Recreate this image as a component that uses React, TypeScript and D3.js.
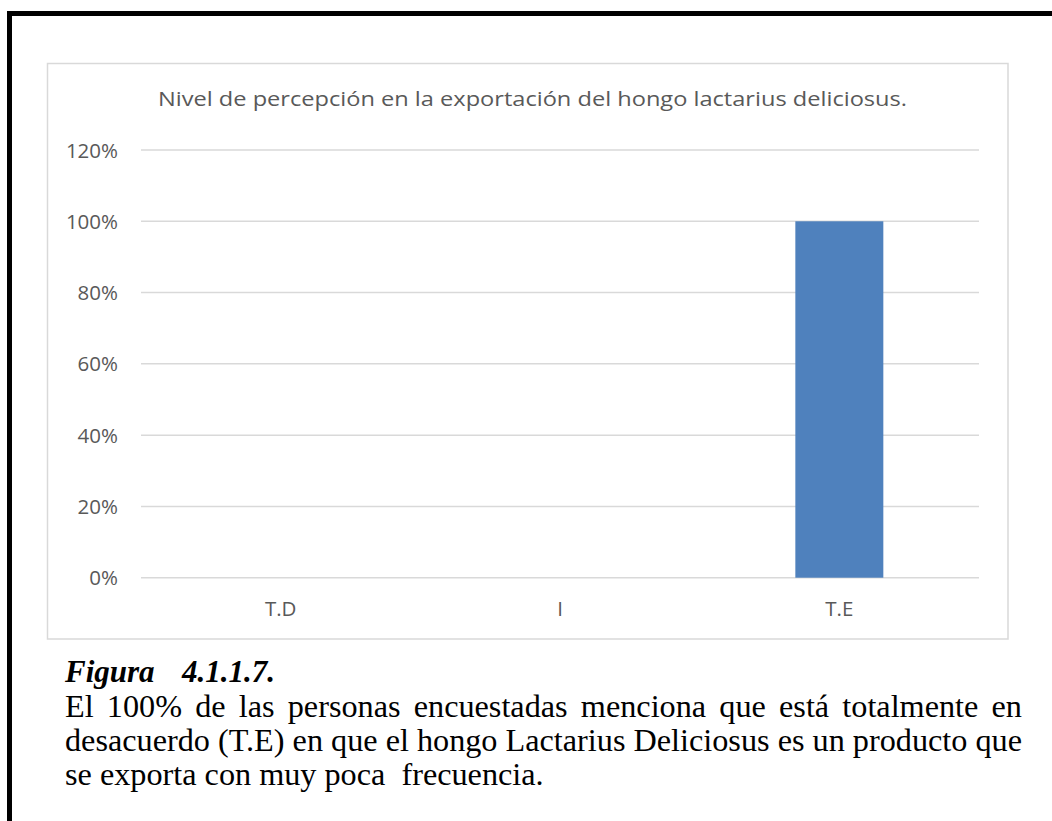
import React, { useMemo } from "react";
import * as d3 from "d3";

const categories = ["T.D", "I", "T.E"];
const values = [0, 0, 1];
const yTicks = [0, 0.2, 0.4, 0.6, 0.8, 1.0, 1.2];
const title = "Nivel de percepción en la exportación del hongo lactarius deliciosus.";
const captionHead = ["Figura", "4.1.1.7."];
const captionLines = [
  "El 100% de las personas encuestadas menciona que está totalmente en",
  "desacuerdo (T.E) en que el hongo Lactarius Deliciosus es un producto que",
];
const captionLast = "se exporta con muy poca  frecuencia.";

const W = 1052;
const H = 821;
const plot = { left: 141, right: 979, top: 150, bottom: 577.7 };
const capX = 65;
const capRight = 1022;
const capSize = 31;
const capSx = 1.04;
const serif = "'Liberation Serif', 'Times New Roman', serif";
const capFont = `${capSize}px 'Liberation Serif'`;

function measure(text: string, font: string): number {
  const c = document.createElement("canvas");
  const ctx = c.getContext("2d")!;
  ctx.font = font;
  return ctx.measureText(text).width;
}

export default function App() {
  const x = d3
    .scaleBand<string>()
    .domain(categories)
    .range([plot.left, plot.right])
    .paddingInner(0.685)
    .paddingOuter(0.3425);
  const y = d3.scaleLinear().domain([0, 1.2]).range([plot.bottom, plot.top]);

  const justified = useMemo(() => {
    return captionLines.map((line) => {
      const words = line.split(" ");
      const widths = words.map((w) => measure(w, capFont) * capSx);
      const total = widths.reduce((a, b) => a + b, 0);
      const gap = (capRight - capX - total) / (words.length - 1);
      let cx = capX;
      return words.map((w, i) => {
        const pos = cx;
        cx += widths[i] + gap;
        return { w, x: pos };
      });
    });
  }, []);

  const sans = "'Open Sans', sans-serif";
  return (
    <svg
      width={W}
      height={H}
      style={{ position: "absolute", left: 0, top: 0, background: "#fff" }}
    >
      <rect x={9.5} y={13.5} width={1100} height={900} fill="none" stroke="#000" strokeWidth={5} />
      <rect x={47.5} y={63.5} width={960.5} height={575.5} fill="#fff" stroke="#d9d9d9" strokeWidth={1.5} />
      <text
        x={158}
        y={106}
        fontFamily={sans}
        fontSize={20}
        fill="#595959"
        textLength={749}
        lengthAdjust="spacingAndGlyphs"
      >
        {title}
      </text>
      {yTicks.map((t) => (
        <g key={t}>
          <line x1={plot.left} x2={plot.right} y1={y(t)} y2={y(t)} stroke="#d9d9d9" strokeWidth={1.5} />
          <text x={118} y={y(t) + 7.5} textAnchor="end" fontFamily={sans} fontSize={20.5} fill="#595959">
            {d3.format(".0%")(t)}
          </text>
        </g>
      ))}
      {categories.map((c, i) => (
        <g key={c}>
          {values[i] > 0 && (
            <rect
              x={x(c)!}
              y={y(values[i])}
              width={x.bandwidth()}
              height={y(0) - y(values[i])}
              fill="#4f81bd"
            />
          )}
          <text
            x={x(c)! + x.bandwidth() / 2}
            y={616}
            textAnchor="middle"
            fontFamily={sans}
            fontSize={20.5}
            fill="#595959"
          >
            {c}
          </text>
        </g>
      ))}
      <text y={682} fontFamily={serif} fontSize={31} fontWeight="bold" fontStyle="italic" fill="#000">
        <tspan x={capX}>{captionHead[0]}</tspan>
        <tspan x={182}>{captionHead[1]}</tspan>
      </text>
      {justified.map((line, li) =>
        line.map((wd, wi) => (
          <text
            key={`${li}-${wi}`}
            transform={`translate(${wd.x},${716.5 + li * 34}) scale(${capSx},1)`}
            fontFamily={serif}
            fontSize={capSize}
            fill="#000"
          >
            {wd.w}
          </text>
        ))
      )}
      <text
        transform={`translate(${capX},785) scale(${capSx},1)`}
        fontFamily={serif}
        fontSize={capSize}
        fill="#000"
        style={{ whiteSpace: "pre" }}
      >
        {captionLast}
      </text>
    </svg>
  );
}
